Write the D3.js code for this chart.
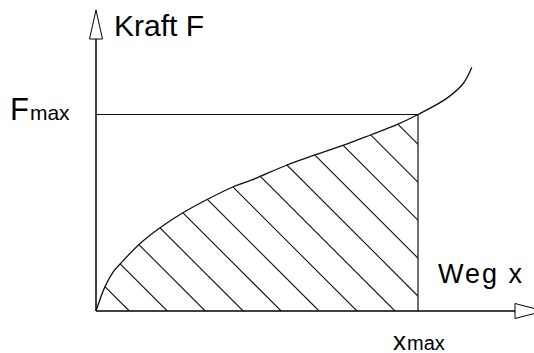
<!DOCTYPE html>
<html>
<head>
<meta charset="utf-8">
<script src="https://cdn.jsdelivr.net/npm/d3@7"></script>
<style>
  body { margin: 0; background: #fff; }
  svg { display: block; font-family: "Liberation Sans", Arial, sans-serif; }
</style>
</head>
<body>
<div id="chart"></div>
<script>
// Kraft-Weg-Kurve (normiert: x = 1 bei xmax, F = 1 bei Fmax)
const wegX  = [0, 0.028, 0.054, 0.077, 0.137, 0.199, 0.270, 0.348, 0.425, 0.484, 0.593, 0.680, 0.767, 0.854, 0.934, 1.0, 1.089, 1.141, 1.167];
const kraftF = [0, 0.124, 0.200, 0.243, 0.344, 0.424, 0.500, 0.570, 0.631, 0.667, 0.743, 0.794, 0.843, 0.897, 0.948, 1.0, 1.082, 1.159, 1.240];

const xMaxWert = 1;
const fMaxWert = 1;

const labels = { yAxis: "Kraft F", xAxis: "Weg x" };

const W = 534, H = 353;

const svg = d3.select("#chart")
    .append("svg")
    .attr("width", W)
    .attr("height", H);

const x = d3.scaleLinear().domain([0, 1]).range([96, 418]);
const y = d3.scaleLinear().domain([0, 1]).range([311, 114.5]);

const punkte = wegX.map((v, i) => ({ x: v, f: kraftF[i] }));

// Schraffur-Bereich (unter der Kurve bis xmax)
const defs = svg.append("defs");
defs.append("clipPath").attr("id", "clipRect")
    .append("rect")
    .attr("x", x(0)).attr("y", 0)
    .attr("width", x(xMaxWert) - x(0)).attr("height", y(0));

const area = d3.area()
    .x(d => x(d.x))
    .y0(y(0))
    .y1(d => y(d.f))
    .curve(d3.curveCatmullRom.alpha(0.5));

defs.append("clipPath").attr("id", "clipArea")
    .append("path")
    .attr("d", area(punkte));

const hatchSpacing = 37.95, hatchStart = 129.3;
const hatch = svg.append("g").attr("clip-path", "url(#clipRect)")
    .append("g").attr("clip-path", "url(#clipArea)");

d3.range(13).forEach(k => {
    const c = hatchStart + k * hatchSpacing;
    hatch.append("line")
        .attr("x1", c).attr("y1", y(0))
        .attr("x2", c - 300).attr("y2", y(0) - 300)
        .attr("stroke", "#111")
        .attr("stroke-width", 1.1);
});

// Kurve
const line = d3.line()
    .x(d => x(d.x))
    .y(d => y(d.f))
    .curve(d3.curveCatmullRom.alpha(0.5));

svg.append("path")
    .attr("d", line(punkte))
    .attr("fill", "none")
    .attr("stroke", "#111")
    .attr("stroke-width", 1.3);

// Fmax-Linie und xmax-Linie
svg.append("line")
    .attr("x1", x(0)).attr("x2", x(xMaxWert))
    .attr("y1", y(fMaxWert)).attr("y2", y(fMaxWert))
    .attr("stroke", "#111").attr("stroke-width", 1.2);

svg.append("line")
    .attr("x1", x(xMaxWert)).attr("x2", x(xMaxWert))
    .attr("y1", y(0)).attr("y2", y(fMaxWert))
    .attr("stroke", "#111").attr("stroke-width", 1.2);

// Achsen
const axisTop = 39, axisRight = 515;
svg.append("line")
    .attr("x1", x(0)).attr("x2", x(0))
    .attr("y1", y(0)).attr("y2", axisTop)
    .attr("stroke", "#000").attr("stroke-width", 1.5);

svg.append("line")
    .attr("x1", x(0)).attr("x2", axisRight)
    .attr("y1", y(0)).attr("y2", y(0))
    .attr("stroke", "#000").attr("stroke-width", 1.5);

// Pfeilspitzen
svg.append("polygon")
    .attr("points", `${x(0)},10 ${x(0) - 6.5},${axisTop} ${x(0) + 6.5},${axisTop}`)
    .attr("fill", "#fff").attr("stroke", "#000").attr("stroke-width", 1);

svg.append("polygon")
    .attr("points", `${axisRight},${y(0) - 7.5} ${axisRight},${y(0) + 7.5} ${axisRight + 29},${y(0)}`)
    .attr("fill", "#fff").attr("stroke", "#000").attr("stroke-width", 1);

// Beschriftungen
svg.append("text")
    .attr("x", 114).attr("y", 36)
    .style("font-size", "30px")
    .text(labels.yAxis);

const fmax = svg.append("text")
    .attr("x", 10).attr("y", 119.5);
fmax.append("tspan").style("font-size", "31px").text("F");
fmax.append("tspan").attr("dx", 1).style("font-size", "21px").text("max");

svg.append("text")
    .attr("x", 438).attr("y", 283.3)
    .style("font-size", "27px")
    .style("letter-spacing", "2px")
    .text(labels.xAxis);

const xmax = svg.append("text")
    .attr("x", 393).attr("y", 350);
xmax.append("tspan").style("font-size", "26px").text("x");
xmax.append("tspan").attr("dx", 1).style("font-size", "20px").text("max");
</script>
</body>
</html>
